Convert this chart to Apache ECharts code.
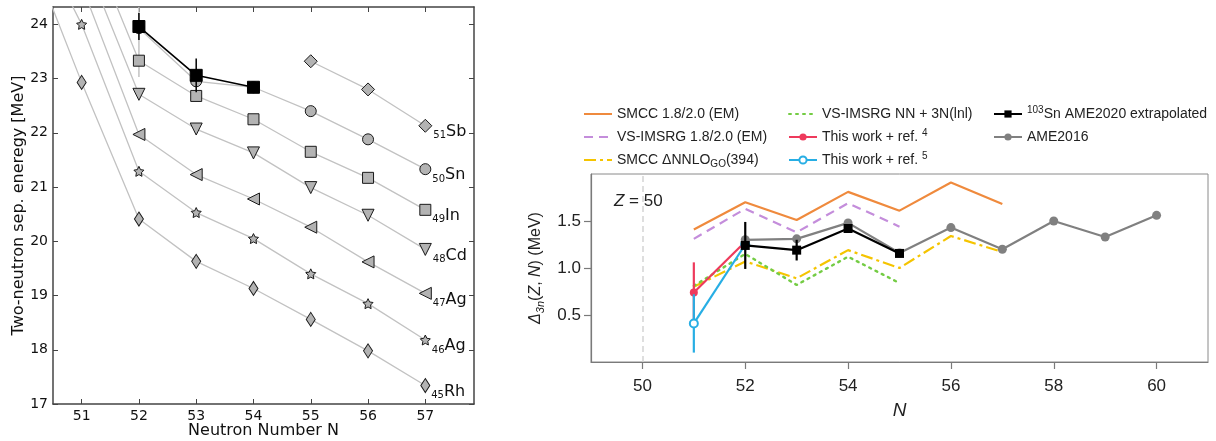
<!DOCTYPE html>
<html>
<head>
<meta charset="utf-8">
<script src="https://cdn.jsdelivr.net/npm/echarts@6/dist/echarts.min.js"></script>
<style>
  html, body { margin: 0; padding: 0; background: #fff; }
  #chart { width: 1216px; height: 441px; }
</style>
</head>
<body>
<div id="chart"></div>
<script>
// ---------------- Left panel data: two-neutron separation energies (MeV) ----------------
const leftN = [50, 51, 52, 53, 54, 55, 56, 57];
const leftTicksX = [51, 52, 53, 54, 55, 56, 57];
const leftTicksY = [17, 18, 19, 20, 21, 22, 23, 24];
const s2nRh45 = [25.63, 22.93, 20.41, 19.63, 19.13, 18.56, 17.98, 17.34];
const s2nAg46 = [26.10, 24.00, 21.29, 20.53, 20.05, 19.40, 18.85, 18.18];
const s2nAg47 = [null, 24.72, 21.97, 21.23, 20.78, 20.26, 19.62, 19.04];
const s2nCd48 = [null, 25.33, 22.71, 22.07, 21.63, 20.99, 20.48, 19.85];
const s2nIn49 = [null, 25.91, 23.33, 22.68, 22.25, 21.65, 21.17, 20.58];
const s2nSn50 = [null, null, 23.93, 22.95, 22.84, 22.40, 21.88, 21.33];
const s2nSn50Err = [null, null, 0.90, null, null, null, null, null];
const s2nSb51 = [null, null, null, null, null, 23.32, 22.80, 22.13];
const s2nSnNew = [null, null, 23.96, 23.06, 22.84, null, null, null];
const s2nSnNewErr = [null, null, 0.25, 0.31, 0.05, null, null, null];

// ---------------- Right panel data: three-point gap Delta_3n (MeV) ----------------
const rightTicksX = [50, 52, 54, 56, 58, 60];
const rightTicksY = [0.5, 1.0, 1.5];
const shellN = 50;
const theoryN = [51, 52, 53, 54, 55, 56, 57];
const smccEM = [1.41, 1.70, 1.51, 1.81, 1.61, 1.91, 1.68];
const vsImsrgEM = [1.31, 1.63, 1.38, 1.69, 1.44];
const smccDNNLO = [0.80, 1.07, 0.89, 1.19, 1.00, 1.34, 1.17];
const vsImsrgLnl = [0.81, 1.15, 0.82, 1.12, 0.84];
const ref4N = [51, 52];
const ref4Val = [0.74, 1.28];
const ref4Err = [0.32, 0];
const ref5N = [51, 52];
const ref5Val = [0.41, 1.25];
const ref5Err = [0.31, 0];
const ame2020N = [52, 53, 54, 55];
const ame2020Val = [1.24, 1.19, 1.42, 1.155];
const ame2020Err = [0.25, 0.11, 0.04, 0.03];
const ame2016N = [52, 53, 54, 55, 56, 57, 58, 59, 60];
const ame2016Val = [1.30, 1.31, 1.48, 1.16, 1.43, 1.20, 1.50, 1.33, 1.56];

// ---------------- helpers ----------------
const LFONT = 'DejaVu Sans';
const RFONT = 'Liberation Sans';
function pairs(xs, ys) {
  return xs.map((x, i) => [x, ys[i]]).filter(p => p[1] !== null && p[1] !== undefined);
}
function errData(xs, ys, es) {
  const out = [];
  xs.forEach((x, i) => {
    if (ys[i] != null && es[i] != null && es[i] > 0) out.push([x, ys[i] - es[i], ys[i] + es[i]]);
  });
  return out;
}
function errorBars(name, xi, yi, data, color, width, z) {
  return {
    name: name, type: 'custom', xAxisIndex: xi, yAxisIndex: yi, z: z, silent: true, clip: true,
    data: data,
    renderItem: function (params, api) {
      const a = api.coord([api.value(0), api.value(1)]);
      const b = api.coord([api.value(0), api.value(2)]);
      return { type: 'line', shape: { x1: a[0], y1: a[1], x2: b[0], y2: b[1] },
               style: { stroke: color, lineWidth: width } };
    }
  };
}
const STAR = 'path://M0,-10 L2.94,-4.05 9.51,-3.09 4.76,1.55 5.88,8.09 0,5 -5.88,8.09 -4.76,1.55 -9.51,-3.09 -2.94,-4.05 Z';
function isotope(name, ys, symbol, size, rotate, z, labelZ) {
  const pts = pairs(leftN, ys);
  const data = pts.map((p, i) => {
    if (i === pts.length - 1 && labelZ) {
      return { value: p, label: { show: true, position: 'right', distance: 1, offset: [0, 6],
        formatter: '{s|' + labelZ[0] + '}{e|' + labelZ[1] + '}',
        rich: { s: { fontSize: 10, fontFamily: LFONT, color: '#111', verticalAlign: 'bottom', lineHeight: 12, padding: [6, 0, 0, 0] },
                e: { fontSize: 16, fontFamily: LFONT, color: '#111', lineHeight: 18 } } } };
    }
    return { value: p };
  });
  return {
    name: name, type: 'line', xAxisIndex: 0, yAxisIndex: 0, z: z, clip: true,
    data: data, symbol: symbol, symbolSize: size, symbolRotate: rotate, symbolKeepAspect: false,
    showAllSymbol: true,
    lineStyle: { color: '#c2c2c2', width: 1.3 },
    itemStyle: { color: '#b3b3b3', borderColor: '#1a1a1a', borderWidth: 1 },
    label: { show: false }
  };
}

const legendNames = {
  'SMCC 1.8/2.0 (EM)': 'SMCC 1.8/2.0 (EM)',
  'VS-IMSRG 1.8/2.0 (EM)': 'VS-IMSRG 1.8/2.0 (EM)',
  'SMCC DNNLO': 'SMCC \u0394NNLO{sub|GO}(394)',
  'VS-IMSRG NN + 3N(lnl)': 'VS-IMSRG NN + 3N(lnl)',
  'This work + ref. 4': 'This work + ref. {sup|4}',
  'This work + ref. 5': 'This work + ref. {sup|5}',
  '103Sn AME2020 extrapolated': '{sup|103}Sn AME2020 extrapolated',
  'AME2016': 'AME2016'
};
const lineOnly = ['SMCC 1.8/2.0 (EM)', 'VS-IMSRG 1.8/2.0 (EM)', 'SMCC DNNLO', 'VS-IMSRG NN + 3N(lnl)'];
const legendText = {
  fontSize: 14, fontFamily: RFONT, color: '#222', lineHeight: 18,
  rich: {
    sub: { fontSize: 10, fontFamily: RFONT, color: '#222', verticalAlign: 'bottom', lineHeight: 12, padding: [6, 0, 0, 0] },
    sup: { fontSize: 10, fontFamily: RFONT, color: '#222', verticalAlign: 'top', lineHeight: 10, padding: [0, 0, 6, 0] }
  }
};
function mkLegend(left, names) {
  return { data: names.map(n => lineOnly.indexOf(n) >= 0
                     ? { name: n, itemStyle: { opacity: 0 } }
                     : { name: n }),
    orient: 'vertical', left: left, top: 105, padding: 0,
    itemWidth: 28, itemHeight: 9, itemGap: 5, selectedMode: false,
    formatter: n => legendNames[n], textStyle: legendText };
}

const leftAxisLine = { show: true, onZero: false, lineStyle: { color: '#444', width: 1.5 } };
const rightAxisLine = { show: true, onZero: false, lineStyle: { color: '#7a7a7a', width: 1.2 } };

const option = {
  animation: false,
  backgroundColor: '#ffffff',
  grid: [
    { left: 53, top: 7, width: 421, height: 397, outerBoundsMode: 'none' },
    { left: 591, top: 174, width: 617, height: 188, show: true, borderColor: '#8a8a8a', borderWidth: 1, outerBoundsMode: 'none' }
  ],
  legend: [
    mkLegend(583, ['SMCC 1.8/2.0 (EM)', 'VS-IMSRG 1.8/2.0 (EM)', 'SMCC DNNLO']),
    mkLegend(788, ['VS-IMSRG NN + 3N(lnl)', 'This work + ref. 4', 'This work + ref. 5']),
    mkLegend(993, ['103Sn AME2020 extrapolated', 'AME2016'])
  ],
  xAxis: [
    { gridIndex: 0, type: 'value', min: 50.5, max: 57.85, position: 'bottom',
      axisLine: leftAxisLine,
      axisTick: { show: true, inside: true, length: 5, customValues: leftTicksX, lineStyle: { color: '#444', width: 1 } },
      axisLabel: { customValues: leftTicksX, color: '#111', fontSize: 14, fontFamily: LFONT, margin: 5 },
      splitLine: { show: false },
      name: 'Neutron Number N', nameLocation: 'middle', nameGap: 19, nameMoveOverlap: false,
      nameTextStyle: { fontSize: 16, fontFamily: LFONT, color: '#111' } },
    { gridIndex: 0, type: 'value', min: 50.5, max: 57.85, position: 'top',
      axisLine: leftAxisLine,
      axisTick: { show: true, inside: true, length: 5, customValues: leftTicksX, lineStyle: { color: '#444', width: 1 } },
      axisLabel: { show: false }, splitLine: { show: false } },
    { gridIndex: 1, type: 'value', min: 49, max: 61, position: 'bottom',
      axisLine: rightAxisLine,
      axisTick: { show: true, inside: false, length: 7, customValues: rightTicksX, lineStyle: { color: '#7a7a7a', width: 1.2 } },
      axisLabel: { customValues: rightTicksX, color: '#222', fontSize: 17, fontFamily: RFONT, margin: 16 },
      splitLine: { show: false },
      name: 'N', nameLocation: 'middle', nameGap: 39, nameMoveOverlap: false,
      nameTextStyle: { fontSize: 19, fontStyle: 'italic', fontFamily: RFONT, color: '#222' } }
  ],
  yAxis: [
    { gridIndex: 0, type: 'value', min: 17, max: 24.32, position: 'left',
      axisLine: leftAxisLine,
      axisTick: { show: true, inside: true, length: 5, customValues: leftTicksY, lineStyle: { color: '#444', width: 1 } },
      axisLabel: { customValues: leftTicksY, color: '#111', fontSize: 14, fontFamily: LFONT, margin: 5 },
      splitLine: { show: false },
      name: 'Two-neutron sep. eneregy [MeV]', nameLocation: 'middle', nameRotate: 90, nameGap: 26, nameMoveOverlap: false,
      nameTextStyle: { fontSize: 16, fontFamily: LFONT, color: '#111' } },
    { gridIndex: 0, type: 'value', min: 17, max: 24.32, position: 'right',
      axisLine: leftAxisLine,
      axisTick: { show: true, inside: true, length: 5, customValues: leftTicksY, lineStyle: { color: '#444', width: 1 } },
      axisLabel: { show: false }, splitLine: { show: false } },
    { gridIndex: 1, type: 'value', min: 0, max: 2, position: 'left',
      axisLine: rightAxisLine,
      axisTick: { show: true, inside: false, length: 7, customValues: rightTicksY, lineStyle: { color: '#7a7a7a', width: 1.2 } },
      axisLabel: { customValues: rightTicksY, color: '#222', fontSize: 17, fontFamily: RFONT, margin: 10,
                   formatter: v => v.toFixed(1) },
      splitLine: { show: false },
      name: '{d|\u0394}{s|3n}({i|Z}, {i|N}) (MeV)', nameLocation: 'middle', nameRotate: 90, nameGap: 45, nameMoveOverlap: false,
      nameTextStyle: { fontSize: 16, fontFamily: RFONT, color: '#222', lineHeight: 20,
        rich: { d: { fontSize: 16, fontStyle: 'italic', fontFamily: RFONT, color: '#222', lineHeight: 20 },
                i: { fontSize: 16, fontStyle: 'italic', fontFamily: RFONT, color: '#222', lineHeight: 20 },
                s: { fontSize: 11, fontStyle: 'italic', fontFamily: RFONT, color: '#222', verticalAlign: 'bottom', lineHeight: 12, padding: [7, 0, 0, 0] } } } }
  ],
  graphic: [
    { type: 'text', left: 614, top: 193, silent: true,
      style: { text: '{i|Z} = 50', fontSize: 17, fontFamily: RFONT, fill: '#222',
               rich: { i: { fontSize: 17, fontStyle: 'italic', fontFamily: RFONT, fill: '#222' } } } }
  ],
  series: [
    // ---- left panel ----
    isotope('Rh', s2nRh45, 'diamond', [9, 14], 0, 2, ['45', 'Rh']),
    isotope('Ag46', s2nAg46, STAR, 10, 0, 2, ['46', 'Ag']),
    isotope('Ag47', s2nAg47, 'triangle', [12, 12], 90, 2, ['47', 'Ag']),
    isotope('Cd', s2nCd48, 'triangle', [12, 12], 180, 2, ['48', 'Cd']),
    isotope('In', s2nIn49, 'rect', 11, 0, 2, ['49', 'In']),
    errorBars('Sn AME err', 0, 0, errData(leftN, s2nSn50, s2nSn50Err), '#c2c2c2', 1.5, 2),
    isotope('Sn', s2nSn50, 'circle', 11, 0, 3, ['50', 'Sn']),
    isotope('Sb', s2nSb51, 'diamond', [13, 13], 0, 2, ['51', 'Sb']),
    errorBars('Sn new err', 0, 0, errData(leftN, s2nSnNew, s2nSnNewErr), '#000', 1.5, 5),
    { name: 'Sn new', type: 'line', xAxisIndex: 0, yAxisIndex: 0, z: 6, clip: true,
      data: pairs(leftN, s2nSnNew), symbol: 'rect', symbolSize: 12,
      lineStyle: { color: '#000', width: 1.6 }, itemStyle: { color: '#000', borderColor: '#000' } },

    // ---- right panel ----
    { name: 'SMCC 1.8/2.0 (EM)', type: 'line', xAxisIndex: 2, yAxisIndex: 2, z: 2,
      data: pairs(theoryN, smccEM), symbol: 'none',
      lineStyle: { color: '#ef8a3d', width: 2.2 }, itemStyle: { color: '#ef8a3d' } },
    { name: 'VS-IMSRG 1.8/2.0 (EM)', type: 'line', xAxisIndex: 2, yAxisIndex: 2, z: 2,
      data: pairs(theoryN, vsImsrgEM), symbol: 'none',
      lineStyle: { color: '#c48ddb', width: 2.2, type: [9, 6] }, itemStyle: { color: '#c48ddb' } },
    { name: 'SMCC DNNLO', type: 'line', xAxisIndex: 2, yAxisIndex: 2, z: 2,
      data: pairs(theoryN, smccDNNLO), symbol: 'none',
      lineStyle: { color: '#f5c400', width: 2.2, type: [12, 4, 3, 4] }, itemStyle: { color: '#f5c400' } },
    { name: 'VS-IMSRG NN + 3N(lnl)', type: 'line', xAxisIndex: 2, yAxisIndex: 2, z: 2,
      data: pairs(theoryN, vsImsrgLnl), symbol: 'none',
      lineStyle: { color: '#74cc44', width: 2.4, type: [2, 5], cap: 'round' }, itemStyle: { color: '#74cc44' } },
    errorBars('ref4 err', 2, 2, errData(ref4N, ref4Val, ref4Err), '#ee3a5c', 2.2, 3),
    { name: 'This work + ref. 4', type: 'line', xAxisIndex: 2, yAxisIndex: 2, z: 3,
      data: pairs(ref4N, ref4Val), symbol: 'circle', symbolSize: 8,
      lineStyle: { color: '#ee3a5c', width: 2.2 }, itemStyle: { color: '#ee3a5c' },
      markLine: { silent: true, symbol: ['none', 'none'], label: { show: false },
        lineStyle: { color: '#d4d4d4', width: 1.5, type: [6, 4] }, data: [{ xAxis: shellN }] } },
    errorBars('ref5 err', 2, 2, errData(ref5N, ref5Val, ref5Err), '#27aee4', 2.2, 4),
    { name: 'This work + ref. 5', type: 'line', xAxisIndex: 2, yAxisIndex: 2, z: 4,
      data: pairs(ref5N, ref5Val), symbol: 'emptyCircle', symbolSize: 8,
      lineStyle: { color: '#27aee4', width: 2.2 }, itemStyle: { color: '#27aee4', borderWidth: 1.5 } },
    { name: 'AME2016', type: 'line', xAxisIndex: 2, yAxisIndex: 2, z: 5,
      data: pairs(ame2016N, ame2016Val), symbol: 'circle', symbolSize: 9,
      lineStyle: { color: '#808080', width: 2.2 }, itemStyle: { color: '#808080' } },
    errorBars('ame2020 err', 2, 2, errData(ame2020N, ame2020Val, ame2020Err), '#000', 2.2, 6),
    { name: '103Sn AME2020 extrapolated', type: 'line', xAxisIndex: 2, yAxisIndex: 2, z: 6,
      data: pairs(ame2020N, ame2020Val), symbol: 'rect', symbolSize: 9,
      lineStyle: { color: '#000', width: 2.2 }, itemStyle: { color: '#000' } }
  ]
};

const chart = echarts.init(document.getElementById('chart'), null, { renderer: 'canvas' });
chart.setOption(option);
</script>
</body>
</html>
